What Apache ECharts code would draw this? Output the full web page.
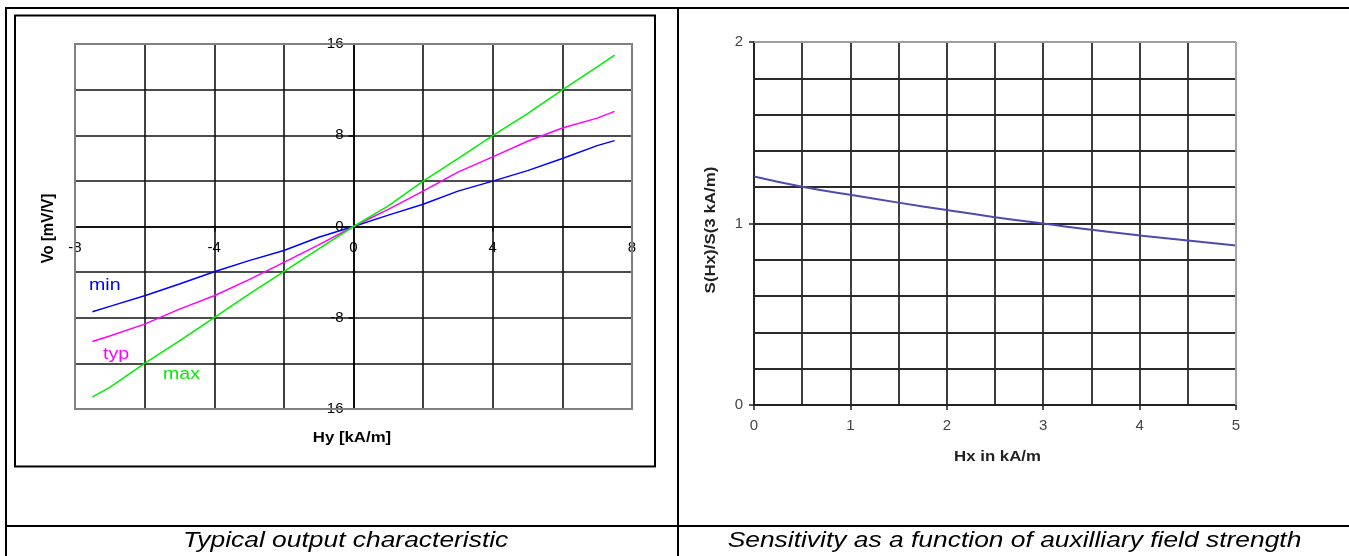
<!DOCTYPE html>
<html>
<head>
<meta charset="utf-8">
<script src="https://cdn.jsdelivr.net/npm/echarts@6/dist/echarts.min.js"></script>
<style>
html,body{margin:0;padding:0;background:#fff;}
#c{width:1349px;height:556px;}
</style>
</head>
<body>
<div id="c"></div>
<script>
// ---- Left chart: Typical output characteristic ----
var hy = [-7.5, -7, -6, -5, -4, -3, -2, -1, 0, 1, 2, 3, 4, 5, 6, 7, 7.5];
var voMin = [-7.48, -7.0, -6.07, -5.04, -3.96, -2.99, -2.11, -0.94, 0, 1.0, 1.95, 3.1, 3.98, 4.9, 5.96, 7.09, 7.53];
var voTyp = [-10.09, -9.6, -8.56, -7.24, -6.07, -4.66, -3.14, -1.61, 0, 1.5, 3.1, 4.77, 6.1, 7.47, 8.63, 9.5, 10.09];
var voMax = [-14.93, -14.1, -12.0, -10.03, -7.98, -5.92, -3.96, -1.96, 0, 1.8, 3.98, 5.96, 7.97, 9.9, 11.98, 14.0, 15.03];
var leftXTicks = [-8, -4, 0, 4, 8];
var leftYTicks = [-16, -8, 0, 8, 16];

// ---- Right chart: Sensitivity vs auxiliary field ----
var hx = [0, 0.5, 1, 1.5, 2, 2.5, 3, 3.5, 4, 4.5, 5];
var sRatio = [1.259, 1.203, 1.158, 1.115, 1.074, 1.035, 1.0, 0.965, 0.934, 0.906, 0.879];
var rightXTicks = [0, 1, 2, 3, 4, 5];
var rightYTicks = [0, 1, 2];

var FONT = '"Liberation Sans", Arial, Helvetica, sans-serif';

function pairs(xs, ys) { return xs.map(function (x, i) { return [x, ys[i]]; }); }

var L = {left: 75, top: 44, width: 557, height: 365};
var R = {left: 754, top: 42, width: 482, height: 363};

function txt(text, x, y, opt) {
  return {
    type: 'text', x: x, y: y, z: 200,
    rotation: opt.rotation || 0,
    scaleX: opt.scaleX || 1, scaleY: opt.scaleY || 1,
    style: {
      text: text, x: 0, y: 0,
      align: opt.align || 'center', verticalAlign: 'middle',
      textAlign: opt.align || 'center', textVerticalAlign: 'middle',
      fontSize: opt.size, fontFamily: FONT,
      fontWeight: opt.weight || 'normal', fontStyle: opt.style || 'normal',
      fill: opt.color || '#000'
    }
  };
}
function ln(x1, y1, x2, y2, color, w, z) {
  return {type: 'line', z: z || 150, shape: {x1: x1, y1: y1, x2: x2, y2: y2},
          style: {stroke: color, lineWidth: w}};
}

var chart = echarts.init(document.getElementById('c'), null, {renderer: 'canvas'});
chart.setOption({
  animation: false,
  backgroundColor: '#fff',
  grid: [
    {left: L.left, top: L.top, width: L.width, height: L.height, containLabel: false, outerBoundsMode: 'none'},
    {left: R.left, top: R.top, width: R.width, height: R.height, containLabel: false, outerBoundsMode: 'none'}
  ],
  xAxis: [
    {
      gridIndex: 0, type: 'value', min: leftXTicks[0], max: leftXTicks[leftXTicks.length - 1], interval: 4,
      position: 'bottom', offset: -L.height / 2,
      axisLine: {onZero: false, lineStyle: {color: '#000', width: 1.6}},
      axisTick: {show: true, length: 5, lineStyle: {color: '#000', width: 1.5}},
      axisLabel: {color: '#000', fontSize: 15, fontFamily: FONT, margin: 14},
      splitLine: {show: true, lineStyle: {color: '#111', width: 1.6}},
      minorTick: {show: false, splitNumber: 2},
      minorSplitLine: {show: true, lineStyle: {color: '#111', width: 1.6}}
    },
    {
      gridIndex: 1, type: 'value', min: rightXTicks[0], max: rightXTicks[rightXTicks.length - 1], interval: 1,
      axisLine: {onZero: false, lineStyle: {color: '#222', width: 1.8}},
      axisTick: {show: true, length: 5, lineStyle: {color: '#222', width: 1.5}},
      axisLabel: {color: '#444', fontSize: 15, fontFamily: FONT, margin: 13},
      splitLine: {show: true, lineStyle: {color: '#2a2a2a', width: 1.8}},
      minorTick: {show: false, splitNumber: 2},
      minorSplitLine: {show: true, lineStyle: {color: '#2a2a2a', width: 1.8}}
    }
  ],
  yAxis: [
    {
      gridIndex: 0, type: 'value', min: leftYTicks[0], max: leftYTicks[leftYTicks.length - 1], interval: 8,
      position: 'left', offset: -L.width / 2,
      axisLine: {onZero: false, lineStyle: {color: '#000', width: 1.6}},
      axisTick: {show: true, length: 5, lineStyle: {color: '#000', width: 1.5}},
      axisLabel: {color: '#000', fontSize: 15, fontFamily: FONT, margin: 10},
      splitLine: {show: true, lineStyle: {color: '#111', width: 1.6}},
      minorTick: {show: false, splitNumber: 2},
      minorSplitLine: {show: true, lineStyle: {color: '#111', width: 1.6}}
    },
    {
      gridIndex: 1, type: 'value', min: rightYTicks[0], max: rightYTicks[rightYTicks.length - 1], interval: 1,
      axisLine: {onZero: false, lineStyle: {color: '#222', width: 1.8}},
      axisTick: {show: true, length: 5, lineStyle: {color: '#222', width: 1.5}},
      axisLabel: {color: '#444', fontSize: 15, fontFamily: FONT, margin: 11},
      splitLine: {show: true, lineStyle: {color: '#2a2a2a', width: 1.8}},
      minorTick: {show: false, splitNumber: 5},
      minorSplitLine: {show: true, lineStyle: {color: '#2a2a2a', width: 1.8}}
    }
  ],
  series: [
    {name: 'min', type: 'line', xAxisIndex: 0, yAxisIndex: 0, data: pairs(hy, voMin),
     showSymbol: false, lineStyle: {color: '#0000ff', width: 1.5}, itemStyle: {color: '#0000ff'}, z: 5},
    {name: 'typ', type: 'line', xAxisIndex: 0, yAxisIndex: 0, data: pairs(hy, voTyp),
     showSymbol: false, lineStyle: {color: '#ff00ff', width: 1.5}, itemStyle: {color: '#ff00ff'}, z: 5},
    {name: 'max', type: 'line', xAxisIndex: 0, yAxisIndex: 0, data: pairs(hy, voMax),
     showSymbol: false, lineStyle: {color: '#00ee00', width: 1.5}, itemStyle: {color: '#00ee00'}, z: 5},
    {name: 'S(Hx)/S(3 kA/m)', type: 'line', xAxisIndex: 1, yAxisIndex: 1, data: pairs(hx, sRatio),
     smooth: true, showSymbol: false, lineStyle: {color: '#4c4cb0', width: 2}, itemStyle: {color: '#4c4cb0'}, z: 5}
  ],
  graphic: [
    // table frame
    ln(5, 8, 1349, 8, '#000', 2),
    ln(6, 7, 6, 556, '#000', 2),
    ln(678, 8, 678, 556, '#000', 2),
    ln(5, 526, 1349, 526, '#000', 2),
    // left chart frame
    {type: 'rect', z: 150, shape: {x: 15, y: 15.5, width: 640, height: 451},
     style: {fill: 'none', stroke: '#000', lineWidth: 2}},
    ln(16, 467.5, 656, 467.5, '#888', 1),
    // left plot border (grey)
    {type: 'rect', z: 150, shape: {x: L.left, y: L.top, width: L.width, height: L.height},
     style: {fill: 'none', stroke: '#808080', lineWidth: 2}},
    // right plot top/right border (light grey)
    ln(R.left, R.top, R.left + R.width, R.top, '#c4c4c4', 1.5),
    ln(R.left + R.width, R.top, R.left + R.width, R.top + R.height, '#c4c4c4', 1.5),
    // axis names
    txt('Vo [mV/V]', 49, 228.5, {size: 14, weight: 'bold', rotation: Math.PI / 2, scaleX: 1.07, scaleY: 1.15}),
    txt('Hy [kA/m]', 352, 438.5, {size: 14, weight: 'bold', scaleX: 1.2}),
    txt('S(Hx)/S(3 kA/m)', 711, 230, {size: 13, weight: 'bold', rotation: Math.PI / 2, scaleX: 1.3, scaleY: 1.15, color: '#222'}),
    txt('Hx in kA/m', 997.5, 457.5, {size: 14, weight: 'bold', scaleX: 1.2, color: '#222'}),
    // series labels
    txt('min', 89, 285, {size: 17, align: 'left', scaleX: 1.15, color: '#0000ff'}),
    txt('typ', 103, 354, {size: 17, align: 'left', scaleX: 1.15, color: '#ff00ff'}),
    txt('max', 163, 374, {size: 17, align: 'left', scaleX: 1.15, color: '#00ee00'}),
    // captions
    txt('Typical output characteristic', 345.7, 541, {size: 22, style: 'italic', scaleX: 1.2}),
    txt('Sensitivity as a function of auxilliary field strength', 1014.5, 541, {size: 22, style: 'italic', scaleX: 1.2})
  ]
});
</script>
</body>
</html>
